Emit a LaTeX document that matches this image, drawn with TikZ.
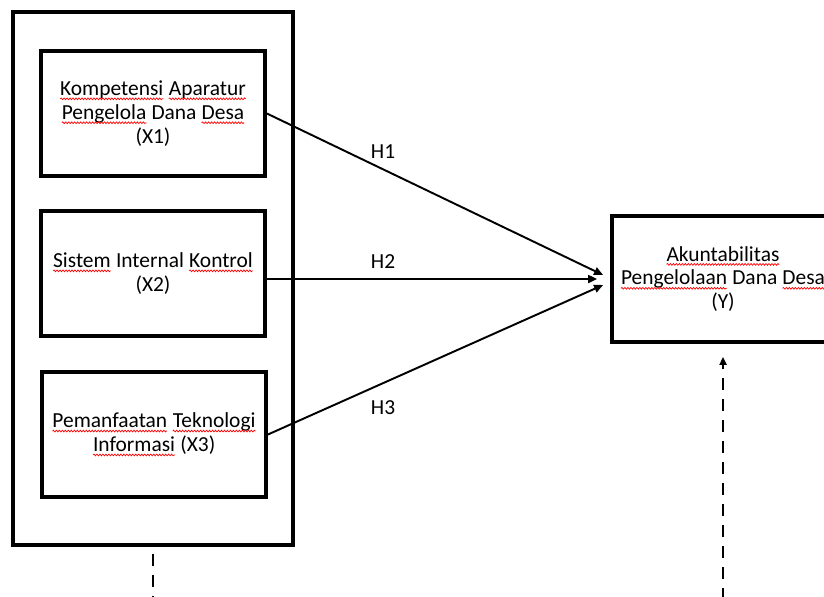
\documentclass[tikz,border=0pt]{standalone}
\usepackage{fontspec}
\setmainfont{Carlito}
\usetikzlibrary{arrows.meta,decorations.pathmorphing}
% red wavy mark under a word
\newcommand{\typo}[1]{\tikz[baseline=(w.base)]{\node[rectangle,draw=none,fill=none,inner sep=0pt,outer sep=0pt,minimum width=0pt,minimum height=0pt] (w) {#1};\draw[red,line width=0.4pt,decorate,decoration={snake,amplitude=0.5pt,segment length=1.7pt}] ([yshift=-1.9pt]w.base west) -- ([yshift=-1.9pt]w.base east);}}

\begin{document}
\begin{tikzpicture}[x=0.02cm, y=-0.02cm,
    txt/.style={font=\fontsize{12.2}{13.6}\selectfont, align=center},
    box/.style={txt, draw, line width=2.2pt, minimum width=4.48cm, minimum height=2.5cm},
    hyp/.style={line width=1.1pt, -{Triangle[length=0.18cm,width=0.16cm]}},
    dashline/.style={line width=1.6pt, dash pattern=on 0.24cm off 0.18cm}]
    \clip (0,0) rectangle (824,596);
    % frame round the independent variables
    \node[draw, line width=2.2pt, minimum width=5.6cm, minimum height=10.66cm] (grp) at (153,278.5) {};
    \node[box] (x1) at (153,113.5) {\typo{Kompetensi} \typo{Aparatur}\\ \typo{Pengelola} Dana \typo{Desa}\\ (X1)};
    \node[box] (x2) at (153,273.5) {\typo{Sistem} Internal \typo{Kontrol}\\ (X2)};
    \node[box] (x3) at (154,434.5) {\typo{Pemanfaatan} \typo{Teknologi}\\ \typo{Informasi} (X3)};
    % dependent variable
    \node[box, minimum width=4.44cm, minimum height=2.52cm] (yb) at (723,279) {\typo{Akuntabilitas}\\ \typo{Pengelolaan} Dana \typo{Desa}\\ (Y)};
    % hypotheses
    \draw[hyp] (x1.east) -- ([shift={(-0.14cm,0.08cm)}]yb.west);
    \draw[hyp] (x2.east |- yb.west) -- ([shift={(-0.26cm,0cm)}]yb.west);
    \draw[hyp] (x3.east) -- ([shift={(-0.14cm,-0.12cm)}]yb.west);
    \node[txt] (h1) at (383,152) {H1};
    \node[txt] (h2) at (383,262) {H2};
    \node[txt] (h3) at (383,408) {H3};
    % dashed links
    \coordinate (lowL) at (153,600);
    \coordinate (lowR) at (723,600);
    \draw[dashline, dash phase=0.28cm] (grp.south) -- (lowL);
    \draw[dashline, -{Triangle[length=0.16cm,width=0.14cm]}, shorten >=0.26cm] (lowR) -- (yb.south);
\end{tikzpicture}
\end{document}
